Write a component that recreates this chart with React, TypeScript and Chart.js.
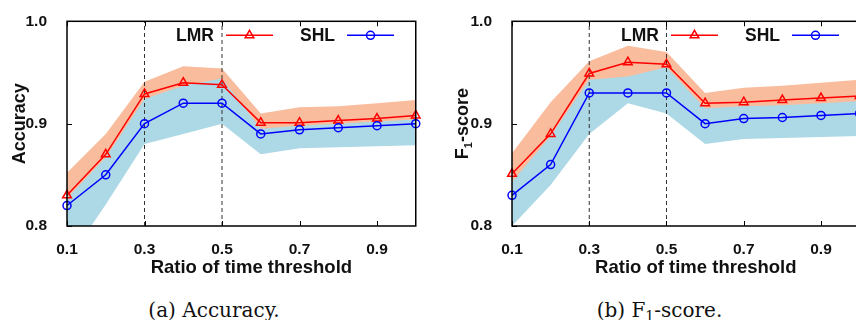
import React, { useEffect, useRef } from "react";
import { Chart, registerables } from "chart.js";

Chart.register(...registerables);

// ---------- data ----------
const ratios = [0.1, 0.2, 0.3, 0.4, 0.5, 0.6, 0.7, 0.8, 0.9, 1.0];
const xTickValues = [0.1, 0.3, 0.5, 0.7, 0.9];
const yTickValues = [0.8, 0.9, 1.0];
const thresholdMarks = [0.3, 0.5];
const seriesNames = ["LMR", "SHL"];
const xAxisTitle = "Ratio of time threshold";

// (a) Accuracy
const accLMR = [0.83, 0.87, 0.929, 0.94, 0.938, 0.901, 0.901, 0.903, 0.905, 0.908];
const accLMRHigh = [0.852, 0.89, 0.941, 0.956, 0.954, 0.91, 0.916, 0.917, 0.92, 0.923];
const accLMRLow = [0.82, 0.86, 0.915, 0.93, 0.935, 0.89, 0.893, 0.895, 0.897, 0.899];
const accSHL = [0.82, 0.85, 0.9, 0.92, 0.92, 0.89, 0.894, 0.896, 0.898, 0.9];
const accSHLHigh = [0.827, 0.867, 0.924, 0.937, 0.944, 0.895, 0.898, 0.9, 0.902, 0.904];
const accSHLLow = [0.765, 0.821, 0.88, 0.89, 0.9, 0.87, 0.876, 0.877, 0.878, 0.879];

// (b) F1-score
const f1LMR = [0.851, 0.89, 0.949, 0.96, 0.958, 0.92, 0.921, 0.923, 0.925, 0.927];
const f1LMRHigh = [0.871, 0.921, 0.961, 0.976, 0.97, 0.93, 0.935, 0.937, 0.94, 0.943];
const f1LMRLow = [0.835, 0.88, 0.935, 0.94, 0.948, 0.91, 0.912, 0.913, 0.915, 0.917];
const f1SHL = [0.83, 0.86, 0.93, 0.93, 0.93, 0.9, 0.905, 0.906, 0.908, 0.91];
const f1SHLHigh = [0.843, 0.888, 0.943, 0.946, 0.955, 0.915, 0.917, 0.918, 0.92, 0.922];
const f1SHLLow = [0.8, 0.84, 0.89, 0.92, 0.91, 0.88, 0.885, 0.886, 0.887, 0.888];

// ---------- style ----------
const FONT = "'Liberation Sans', Arial, Helvetica, sans-serif";
const TEXT = "#111";
const RED = "#ff0000";
const BLUE = "#0000ff";
const ORANGE_BAND = "#f9bc9d";
const BLUE_BAND = "#add8e6";

function drawMarker(ctx: CanvasRenderingContext2D, style: string, x: number, y: number, r: number, bw: number, color: string) {
  ctx.save();
  ctx.strokeStyle = color;
  ctx.lineWidth = bw;
  ctx.beginPath();
  if (style === "triangle") {
    let rad = 0;
    ctx.moveTo(x + Math.sin(rad) * r, y - Math.cos(rad) * r);
    rad += (2 * Math.PI) / 3;
    ctx.lineTo(x + Math.sin(rad) * r, y - Math.cos(rad) * r);
    rad += (2 * Math.PI) / 3;
    ctx.lineTo(x + Math.sin(rad) * r, y - Math.cos(rad) * r);
    ctx.closePath();
  } else {
    ctx.arc(x, y, r, 0, Math.PI * 2);
  }
  ctx.stroke();
  ctx.restore();
}

const gnuplotLook = {
  id: "gnuplotLook",
  afterDraw(chart: any, _args: any, opts: any) {
    const { ctx, chartArea: a } = chart;
    const xs = chart.scales.x;
    const ys = chart.scales.y;
    ctx.save();
    // inner tick marks
    ctx.strokeStyle = "#000";
    ctx.lineWidth = 1;
    ctx.beginPath();
    xTickValues.forEach((v) => {
      const p = Math.round(xs.getPixelForValue(v)) + 0.5;
      ctx.moveTo(p, a.bottom);
      ctx.lineTo(p, a.bottom - 5);
      ctx.moveTo(p, a.top);
      ctx.lineTo(p, a.top + 5);
    });
    yTickValues.forEach((v) => {
      const p = Math.round(ys.getPixelForValue(v)) + 0.5;
      ctx.moveTo(a.left, p);
      ctx.lineTo(a.left + 5, p);
    });
    ctx.stroke();
    // frame
    ctx.lineWidth = 1.5;
    ctx.strokeRect(a.left, a.top, a.right - a.left, a.bottom - a.top);

    // legend (gnuplot style: label, then sample)
    ctx.font = `bold 17.5px ${FONT}`;
    ctx.textBaseline = "middle";
    ctx.textAlign = "right";
    const ly = a.top + 14;
    let i = 0;
    chart.data.datasets.forEach((ds: any) => {
      if (!ds.legendItem) return;
      const off = a.left + 147 + i * 121;
      ctx.fillStyle = TEXT;
      ctx.fillText(ds.label, off, ly + 1);
      ctx.strokeStyle = ds.borderColor;
      ctx.lineWidth = ds.borderWidth;
      ctx.beginPath();
      ctx.moveTo(off + 12, ly);
      ctx.lineTo(off + 59, ly);
      ctx.stroke();
      drawMarker(ctx, ds.pointStyle, off + 35.5, ly, ds.pointRadius, ds.pointBorderWidth, ds.borderColor);
      i++;
    });

    // x title
    ctx.font = `bold 18.5px ${FONT}`;
    ctx.textAlign = "center";
    ctx.textBaseline = "alphabetic";
    ctx.fillStyle = TEXT;
    ctx.fillText(opts.xTitle, (a.left + a.right) / 2 + 10, a.bottom + 47);

    // y title (rotated, may contain subscript)
    const parts = opts.yTitle as { text: string; sub?: boolean }[];
    const mainFont = `bold 18px ${FONT}`;
    const subFont = `bold 11px ${FONT}`;
    let total = 0;
    const widths = parts.map((p) => {
      ctx.font = p.sub ? subFont : mainFont;
      const w = ctx.measureText(p.text).width;
      total += w;
      return w;
    });
    ctx.translate(a.left - opts.yTitleGap, (a.top + a.bottom) / 2);
    ctx.rotate(-Math.PI / 2);
    ctx.textAlign = "left";
    let x = -total / 2;
    parts.forEach((p, k) => {
      ctx.font = p.sub ? subFont : mainFont;
      ctx.fillText(p.text, x, p.sub ? 4 : 0);
      x += widths[k];
    });
    ctx.restore();
  },
};

type PanelCfg = {
  lmr: number[];
  lmrHigh: number[];
  lmrLow: number[];
  shl: number[];
  shlHigh: number[];
  shlLow: number[];
  yTitle: { text: string; sub?: boolean }[];
  yTitleGap: number;
  yAxisWidth: number;
  padRight: number;
  canvasH: number;
  plotTop: number;
  plotBottom: number;
};

const pts = (arr: number[]) => ratios.map((x, i) => ({ x, y: arr[i] }));

function band(arr: number[], color: string, fill: any, order: number) {
  return {
    label: "",
    data: pts(arr),
    fill,
    backgroundColor: color,
    borderColor: "rgba(0,0,0,0)",
    borderWidth: 0,
    pointRadius: 0,
    pointHoverRadius: 0,
    tension: 0,
    order,
  };
}

function buildConfig(c: PanelCfg): any {
  const yMin = yTickValues[0];
  const yMax = yTickValues[yTickValues.length - 1];
  const dashed = thresholdMarks.map((t) => ({
    label: "",
    data: [
      { x: t, y: yMin },
      { x: t, y: yMax },
    ],
    borderColor: "#333",
    borderWidth: 1,
    borderDash: [4, 3],
    pointRadius: 0,
    pointHoverRadius: 0,
    fill: false,
    order: 5,
  }));
  return {
    type: "line",
    data: {
      datasets: [
        band(c.lmrHigh, ORANGE_BAND, "+1", 10),
        band(c.lmrLow, ORANGE_BAND, false, 9),
        band(c.shlHigh, BLUE_BAND, "+1", 8),
        band(c.shlLow, BLUE_BAND, false, 7),
        ...dashed,
        {
          label: seriesNames[0],
          legendItem: true,
          data: pts(c.lmr),
          borderColor: RED,
          borderWidth: 1.5,
          pointStyle: "triangle",
          pointRadius: 5,
          pointBorderWidth: 1.5,
          pointBackgroundColor: "rgba(0,0,0,0)",
          pointBorderColor: RED,
          pointHoverRadius: 5,
          fill: false,
          tension: 0,
          clip: false,
          order: 2,
        },
        {
          label: seriesNames[1],
          legendItem: true,
          data: pts(c.shl),
          borderColor: BLUE,
          borderWidth: 1.5,
          pointStyle: "circle",
          pointRadius: 4,
          pointBorderWidth: 1.5,
          pointBackgroundColor: "rgba(0,0,0,0)",
          pointBorderColor: BLUE,
          pointHoverRadius: 4,
          fill: false,
          tension: 0,
          clip: false,
          order: 1,
        },
      ],
    },
    options: {
      responsive: false,
      animation: false,
      events: [],
      layout: { padding: { left: 0, top: c.plotTop, right: c.padRight, bottom: 0 } },
      scales: {
        x: {
          type: "linear",
          min: ratios[0],
          max: ratios[ratios.length - 1],
          grid: { display: false },
          border: { display: false },
          afterBuildTicks: (s: any) => {
            s.ticks = xTickValues.map((v) => ({ value: v }));
          },
          afterFit: (s: any) => {
            s.height = c.canvasH - c.plotBottom;
          },
          ticks: {
            padding: 6,
            maxRotation: 0,
            autoSkip: false,
            color: TEXT,
            font: { family: FONT, size: 15.5, weight: "bold" },
            callback: (v: any) => Number(v).toFixed(1),
          },
        },
        y: {
          type: "linear",
          min: yMin,
          max: yMax,
          grid: { display: false },
          border: { display: false },
          afterBuildTicks: (s: any) => {
            s.ticks = yTickValues.map((v) => ({ value: v }));
          },
          afterFit: (s: any) => {
            s.width = c.yAxisWidth;
          },
          ticks: {
            padding: 12,
            color: TEXT,
            font: { family: FONT, size: 15.5, weight: "bold" },
            callback: (v: any) => Number(v).toFixed(1),
          },
        },
      },
      plugins: {
        legend: { display: false },
        tooltip: { enabled: false },
        gnuplotLook: { xTitle: xAxisTitle, yTitle: c.yTitle, yTitleGap: c.yTitleGap },
      },
    },
    plugins: [gnuplotLook],
  };
}

function Panel({ cfg, left, width }: { cfg: PanelCfg; left: number; width: number }) {
  const ref = useRef<HTMLCanvasElement>(null);
  useEffect(() => {
    const chart = new Chart(ref.current as HTMLCanvasElement, buildConfig(cfg));
    return () => chart.destroy();
  }, []);
  return (
    <canvas
      ref={ref}
      width={width}
      height={cfg.canvasH}
      style={{ position: "absolute", left, top: 0, width, height: cfg.canvasH }}
    />
  );
}

const accCfg: PanelCfg = {
  lmr: accLMR,
  lmrHigh: accLMRHigh,
  lmrLow: accLMRLow,
  shl: accSHL,
  shlHigh: accSHLHigh,
  shlLow: accSHLLow,
  yTitle: [{ text: "Accuracy" }],
  yTitleGap: 42,
  yAxisWidth: 67,
  padRight: 12.25,
  canvasH: 285,
  plotTop: 17,
  plotBottom: 226,
};

const f1Cfg: PanelCfg = {
  lmr: f1LMR,
  lmrHigh: f1LMRHigh,
  lmrLow: f1LMRLow,
  shl: f1SHL,
  shlHigh: f1SHLHigh,
  shlLow: f1SHLLow,
  yTitle: [{ text: "F" }, { text: "1", sub: true }, { text: "-score" }],
  yTitleGap: 44,
  yAxisWidth: 84,
  padRight: 13.4,
  canvasH: 285,
  plotTop: 17,
  plotBottom: 226,
};

const captionStyle: React.CSSProperties = {
  position: "absolute",
  top: 299,
  width: 300,
  textAlign: "center",
  fontFamily: "'DejaVu Serif', 'Liberation Serif', serif",
  fontSize: 20,
  lineHeight: "22px",
  color: "#111",
};

export default function App() {
  return (
    <div
      style={{
        position: "absolute",
        left: 0,
        top: 0,
        width: 856,
        height: 320,
        overflow: "hidden",
        background: "#fff",
      }}
    >
      <Panel cfg={accCfg} left={0} width={428} />
      <Panel cfg={f1Cfg} left={428} width={445} />
      <div style={{ ...captionStyle, left: 214 - 150 }}>(a) Accuracy.</div>
      <div style={{ ...captionStyle, left: 659.5 - 150 }}>
        (b) F<sub style={{ fontSize: "0.7em", verticalAlign: "-0.3em", lineHeight: 0 }}>1</sub>-score.
      </div>
    </div>
  );
}
